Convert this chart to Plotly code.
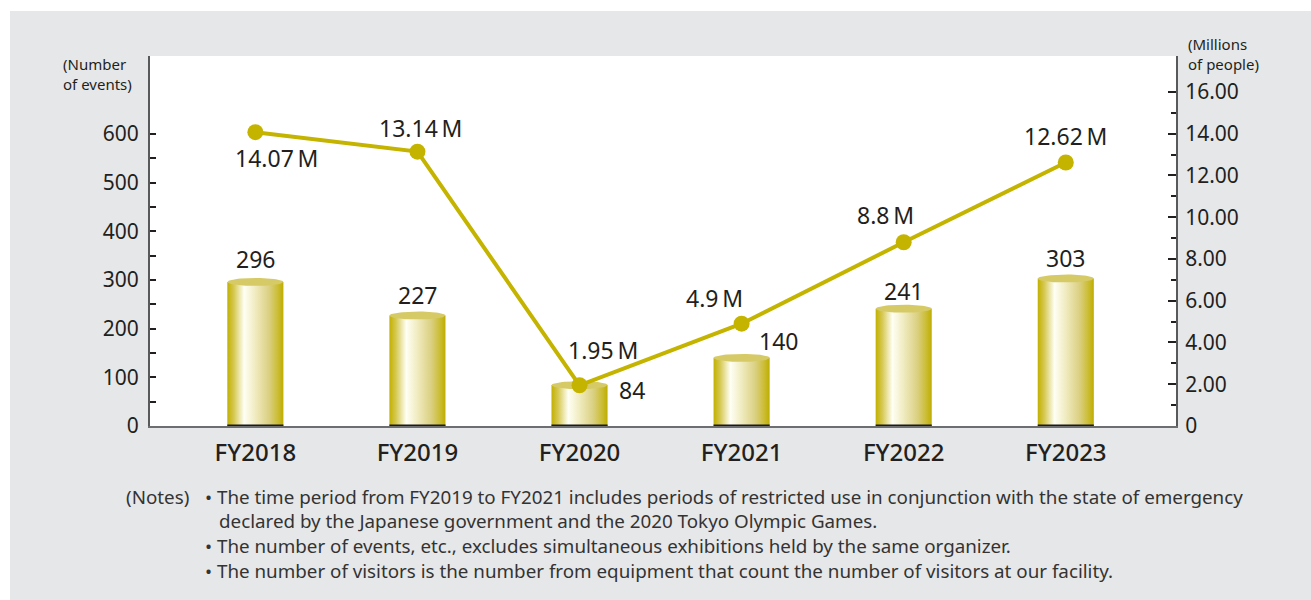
import numpy as np
import plotly.graph_objects as go

# ---------------- data ----------------
categories = ["FY2018", "FY2019", "FY2020", "FY2021", "FY2022", "FY2023"]
events = [296, 227, 84, 140, 241, 303]
visitors = [14.07, 13.14, 1.95, 4.9, 8.8, 12.62]
visitor_labels = ["14.07\u2009M", "13.14\u2009M", "1.95\u2009M", "4.9\u2009M", "8.8\u2009M", "12.62\u2009M"]
left_ticks = [0, 100, 200, 300, 400, 500, 600]
right_ticks = [0, 2, 4, 6, 8, 10, 12, 14, 16]
right_ticktext = ["0", "2.00", "4.00", "6.00", "8.00", "10.00", "12.00", "14.00", "16.00"]
notes = [
    "\u2022 The time period from FY2019 to FY2021 includes periods of restricted use in conjunction with the state of emergency",
    "declared by the Japanese government and the 2020 Tokyo Olympic Games.",
    "\u2022 The number of events, etc., excludes simultaneous exhibitions held by the same organizer.",
    "\u2022 The number of visitors is the number from equipment that count the number of visitors at our facility.",
]

# ---------------- layout constants ----------------
W, H = 1311, 600
PL, PR, PT, PB = 150, 1176, 56, 426  # plot area in px
XR = [-0.65, 5.68]
YR = [0, 760.3]
Y2R = [0, 17.72]
FONT = "Noto Sans"
TXT = "#231f20"
OLIVE = "#c4b400"

def px_x(p):
    return (p - PL) / (PR - PL)

def px_y(p):
    return (PB - p) / (PB - PT)

hw = 0.173  # bar half width in x units
ell_h = 4 * (YR[1] - YR[0]) / (PB - PT)  # ellipse half-height in y units (4px)

fig = go.Figure()

grad = [
    [0.0, "#c1b000"],
    [0.12, "#d6c955"],
    [0.3, "#fffff4"],
    [0.5, "#f0ebc0"],
    [0.75, "#dacf80"],
    [0.9, "#cbbd34"],
    [1.0, "#bead00"],
]

t = np.linspace(0, 2 * np.pi, 60)
for i, v in enumerate(events):
    xs = [i - hw, i + hw, i + hw, i - hw, i - hw]
    ys = [0, 0, v, v, 0]
    fig.add_trace(go.Scatter(
        x=xs, y=ys, fill="toself", mode="lines", line=dict(width=0),
        fillgradient=dict(type="horizontal", colorscale=grad),
        hoverinfo="skip", showlegend=False, yaxis="y",
    ))
    fig.add_trace(go.Scatter(
        x=i + hw * np.cos(t), y=v + ell_h * np.sin(t), fill="toself", mode="lines",
        line=dict(width=0), fillcolor="#d6ca66", hoverinfo="skip", showlegend=False, yaxis="y",
    ))

# dark bar bases
bx, by = [], []
for i, v in enumerate(events):
    bx += [i - hw, i + hw, None]
    by += [0, 0, None]
fig.add_trace(go.Scatter(x=bx, y=by, mode="lines", line=dict(color="#1a1a1a", width=3),
                         hoverinfo="skip", showlegend=False, cliponaxis=False, yaxis="y"))

# visitors line
fig.add_trace(go.Scatter(
    x=list(range(len(categories))), y=visitors, mode="lines+markers",
    line=dict(color=OLIVE, width=4), marker=dict(color=OLIVE, size=16),
    yaxis="y2", showlegend=False, hoverinfo="skip",
))

annotations = []
# bar labels (xshift, yshift in px)
bar_off = [(0, 23), (0, 21), (52, -5), (37, 17), (0, 18), (0, 21)]
for i, v in enumerate(events):
    dx, dy = bar_off[i]
    annotations.append(dict(x=i, y=v, xref="x", yref="y", text=str(v), showarrow=False,
                            xshift=dx, yshift=dy, font=dict(size=23, color=TXT, family=FONT)))
line_off = [(21, -26), (3, 24), (23, 35), (-27, 26), (-18, 27), (0, 26)]
for i, v in enumerate(visitors):
    dx, dy = line_off[i]
    annotations.append(dict(x=i, y=v, xref="x", yref="y2", text=visitor_labels[i], showarrow=False,
                            xshift=dx, yshift=dy, font=dict(size=23, color=TXT, family=FONT)))

# axis titles
annotations.append(dict(x=px_x(61), y=px_y(74), xref="paper", yref="paper", xanchor="left", yanchor="middle",
                        text="(Number<br>of events)", align="left", showarrow=False,
                        font=dict(size=15, color=TXT, family=FONT)))
annotations.append(dict(x=px_x(1186), y=px_y(54), xref="paper", yref="paper", xanchor="left", yanchor="middle",
                        text="(Millions<br>of people)", align="left", showarrow=False,
                        font=dict(size=15, color=TXT, family=FONT)))

# notes
NF = dict(size=18.8, color="#333333", family=FONT)
annotations.append(dict(x=px_x(124), y=px_y(497), xref="paper", yref="paper", xanchor="left", yanchor="middle",
                        text="(Notes)", showarrow=False, font=NF))
note_pos = [(203, 497), (217, 521), (203, 546), (203, 571)]
for (nx, ny), txt in zip(note_pos, notes):
    annotations.append(dict(x=px_x(nx), y=px_y(ny), xref="paper", yref="paper", xanchor="left", yanchor="middle",
                            text=txt, showarrow=False, font=NF))

shapes = [
    # white strips at top and left of the gray panel
    dict(type="rect", xref="paper", yref="paper", x0=px_x(-5), x1=px_x(W + 5), y0=px_y(11), y1=px_y(-5),
         fillcolor="white", line=dict(width=0), layer="below"),
    dict(type="rect", xref="paper", yref="paper", x0=px_x(-5), x1=px_x(10), y0=px_y(H + 5), y1=px_y(-5),
         fillcolor="white", line=dict(width=0), layer="below"),
]

fig.update_layout(
    width=W, height=H,
    margin=dict(l=PL, r=W - PR, t=PT, b=H - PB, pad=0),
    paper_bgcolor="#e6e7e9", plot_bgcolor="white",
    font=dict(family=FONT, color=TXT),
    showlegend=False,
    annotations=annotations,
    shapes=shapes,
    xaxis=dict(
        range=XR, tickvals=list(range(len(categories))), ticktext=categories,
        showgrid=False, zeroline=False, showline=True, linecolor="#6d6e71", linewidth=2,
        ticks="", tickfont=dict(size=24, color=TXT, family=FONT, weight=500),
        ticklabelstandoff=4, fixedrange=True,
    ),
    yaxis=dict(
        range=YR, tickvals=left_ticks, showgrid=False, zeroline=False,
        showline=True, linecolor="#58595b", linewidth=2,
        ticks="inside", ticklen=6, tickwidth=2, tickcolor="#231f20",
        minor=dict(tickvals=[50, 150, 250, 350, 450, 550], ticks="inside", ticklen=6, tickwidth=2, tickcolor="#231f20"),
        tickfont=dict(size=21, color=TXT, family=FONT), ticklabelstandoff=5, fixedrange=True,
    ),
    yaxis2=dict(
        range=Y2R, overlaying="y", side="right", tickvals=right_ticks, ticktext=right_ticktext,
        showgrid=False, zeroline=False, showline=True, linecolor="#58595b", linewidth=2,
        ticks="inside", ticklen=8, tickwidth=2, tickcolor="#231f20",
        minor=dict(tickvals=[1, 3, 5, 7, 9, 11, 13, 15], ticks="inside", ticklen=5, tickwidth=2, tickcolor="#231f20"),
        tickfont=dict(size=21, color=TXT, family=FONT), ticklabelstandoff=3, fixedrange=True,
    ),
)

fig.write_html("out.html", config={"displayModeBar": False},
               post_script="document.body.style.margin='0px';document.body.style.padding='0px';")
